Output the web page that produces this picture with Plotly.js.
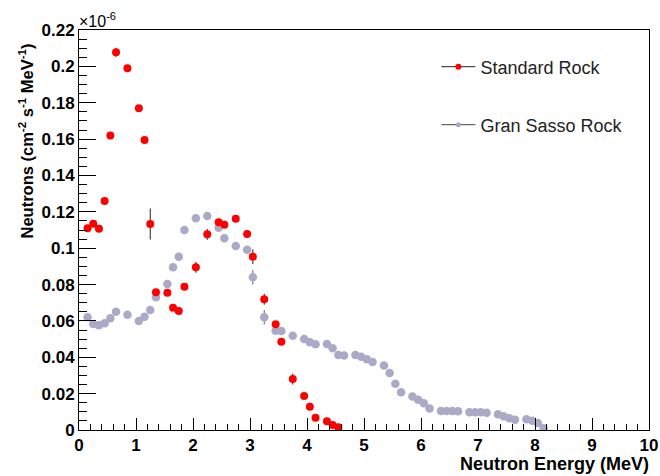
<!DOCTYPE html>
<html>
<head>
<meta charset="utf-8">
<script src="https://cdn.plot.ly/plotly-3.0.1.min.js"></script>
<style>html,body{margin:0;padding:0;background:#fff;}#chart{width:660px;height:476px;}</style>
</head>
<body>
<div id="chart"></div>
<script>
// Values in units of 1e-6 cm^-2 s^-1 MeV^-1
const stdEnergy = [0.15,0.25,0.35,0.45,0.55,0.65,0.85,1.05,1.15,1.25,1.35,1.55,1.65,1.75,1.85,2.05,2.25,2.45,2.55,2.75,2.95,3.05,3.25,3.45,3.55,3.75,3.95,4.05,4.15,4.35,4.45,4.55];
const stdFlux   = [0.111,0.1135,0.1107,0.126,0.162,0.2077,0.199,0.177,0.1595,0.1133,0.0757,0.0755,0.0673,0.0655,0.0788,0.0895,0.1076,0.1142,0.1129,0.1162,0.1078,0.0953,0.0719,0.0581,0.0486,0.028,0.0187,0.0128,0.0067,0.0048,0.0028,0.0015];
const stdErr    = [0.0015,0.0015,0.0015,0.0015,0.0015,0.0025,0.0015,0.0015,0.0015,0.0085,0.0015,0.0015,0.0015,0.0015,0.0015,0.003,0.003,0.0015,0.0015,0.0015,0.0015,0.004,0.003,0.0015,0.0015,0.003,0.0015,0.0015,0.0015,0.0015,0.0015,0.0015];

const gsEnergy = [0.15,0.25,0.35,0.45,0.55,0.65,0.85,1.05,1.15,1.25,1.35,1.55,1.65,1.75,1.85,2.05,2.25,2.45,2.55,2.75,2.95,3.05,3.25,3.45,3.55,3.75,3.95,4.05,4.15,4.35,4.45,4.55,4.65,4.85,4.95,5.05,5.15,5.35,5.45,5.55,5.65,5.85,5.95,6.05,6.15,6.35,6.45,6.55,6.65,6.85,6.95,7.05,7.15,7.35,7.45,7.55,7.65,7.85,7.95,8.05,8.15];
const gsFlux   = [0.062,0.0583,0.0576,0.0587,0.0614,0.065,0.0634,0.060,0.0623,0.066,0.073,0.0803,0.0895,0.0953,0.110,0.1164,0.1177,0.1113,0.1054,0.1012,0.0992,0.084,0.062,0.0546,0.0545,0.0519,0.050,0.0482,0.0471,0.0473,0.045,0.0413,0.041,0.0413,0.0403,0.0389,0.0374,0.0355,0.0313,0.0255,0.0207,0.0184,0.0166,0.0147,0.0118,0.0105,0.0104,0.0104,0.0103,0.0097,0.0097,0.0097,0.0095,0.0087,0.0076,0.0065,0.0057,0.0059,0.0051,0.0038,0.001];
const gsErr    = [0.0012,0.0012,0.0012,0.0012,0.0012,0.0012,0.0012,0.0012,0.0012,0.0012,0.0012,0.0012,0.0012,0.0012,0.0012,0.0012,0.0012,0.0012,0.0012,0.0012,0.0012,0.004,0.004,0.0012,0.0012,0.0012,0.0012,0.0012,0.0012,0.0012,0.0012,0.0012,0.0012,0.0012,0.0012,0.0012,0.0012,0.0012,0.0012,0.0012,0.0012,0.0012,0.0012,0.0012,0.0012,0.0012,0.0012,0.0012,0.0012,0.0012,0.0012,0.0012,0.0012,0.0012,0.0012,0.0012,0.0012,0.0012,0.0012,0.0012,0.0012];

const seriesNames = ["Standard Rock","Gran Sasso Rock"];
const xTitle = "Neutron Energy (MeV)";
const yTitle = "Neutrons (cm<sup>-2</sup> s<sup>-1</sup> MeV<sup>-1</sup>)";

const RED = "#ff0000";
const GREY = "#aaaac8";
const FONT = "Liberation Sans, Arial, Helvetica, sans-serif";

const traces = [
  {x: gsEnergy, y: gsFlux, type: "scatter", mode: "markers", showlegend: false,
   marker: {color: GREY, size: 8.5},
   error_y: {type: "data", array: gsErr, visible: true, color: "#666", thickness: 1, width: 0}},
  {x: stdEnergy, y: stdFlux, type: "scatter", mode: "markers", showlegend: false,
   marker: {color: RED, size: 8},
   error_y: {type: "data", array: stdErr, visible: true, color: "#222", thickness: 1, width: 0}},
  {x: [null], y: [null], type: "scatter", mode: "lines+markers", name: seriesNames[0], legend: "legend",
   line: {color: "#222", width: 1}, marker: {color: RED, size: 6}},
  {x: [null], y: [null], type: "scatter", mode: "lines+markers", name: seriesNames[1], legend: "legend2",
   line: {color: "#444", width: 1}, marker: {color: GREY, size: 5}}
];

const axisCommon = {
  showgrid: false, zeroline: false, showline: true, linecolor: "#000", linewidth: 1, mirror: true,
  ticks: "inside", tickcolor: "#000", tickwidth: 1,
  tickfont: {family: FONT, size: 17, color: "#000", weight: "bold"}
};

const layout = {
  width: 660, height: 476,
  margin: {l: 79, r: 11, t: 30, b: 46},
  paper_bgcolor: "#fff", plot_bgcolor: "#fff",
  font: {family: FONT},
  xaxis: Object.assign({}, axisCommon, {
    range: [0, 10], dtick: 1, tick0: 0, ticklen: 12,
    minor: {dtick: 0.2, ticklen: 6, ticks: "inside", tickcolor: "#000", tickwidth: 1}
  }),
  yaxis: Object.assign({}, axisCommon, {
    range: [0, 0.22], dtick: 0.02, tick0: 0, ticklen: 17,
    minor: {dtick: 0.005, ticklen: 8, ticks: "inside", tickcolor: "#000", tickwidth: 1}
  }),
  legend: {x: 0.627, xanchor: "left", y: 0.9075, yanchor: "middle", bgcolor: "rgba(0,0,0,0)", itemwidth: 34,
    font: {family: FONT, size: 18, color: "#222"}},
  legend2: {x: 0.627, xanchor: "left", y: 0.7625, yanchor: "middle", bgcolor: "rgba(0,0,0,0)", itemwidth: 34,
    font: {family: FONT, size: 18, color: "#222"}},
  annotations: [
    {text: "×10<sup>-6</sup>", xref: "paper", yref: "paper", x: 0, y: 1, xanchor: "left", yanchor: "bottom",
     showarrow: false, font: {family: FONT, size: 16, color: "#000"}, xshift: -2, yshift: -2},
    {text: xTitle, xref: "paper", yref: "paper", x: 1, y: 0, xanchor: "right", yanchor: "top",
     showarrow: false, yshift: -22, xshift: 2, font: {family: FONT, size: 18, color: "#000", weight: "bold"}},
    {text: yTitle, xref: "paper", yref: "paper", x: 0, y: 1, xanchor: "center", yanchor: "top",
     textangle: -90, showarrow: false, xshift: -53, yshift: -12,
     font: {family: FONT, size: 16.5, color: "#000", weight: "bold"}}
  ]
};

Plotly.newPlot("chart", traces, layout, {displayModeBar: false, staticPlot: true});
</script>
</body>
</html>
